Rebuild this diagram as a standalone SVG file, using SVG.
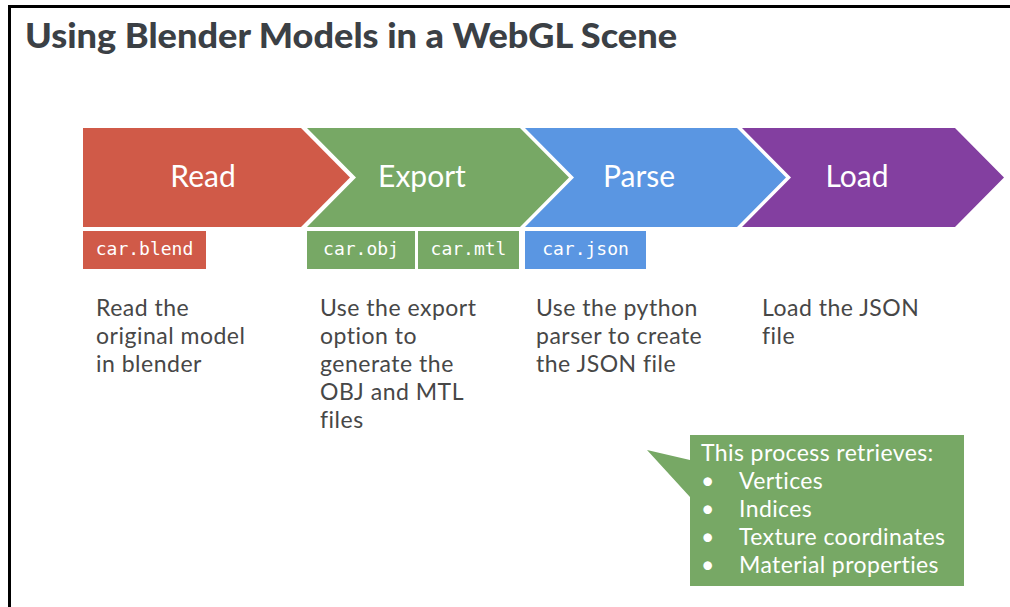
<svg xmlns="http://www.w3.org/2000/svg" width="1010" height="607" viewBox="0 0 1010 607">
<style>
.title{font-family:Lato,"Noto Sans",sans-serif;font-weight:900;font-size:34px;fill:#3b4045}
.lbl{font-family:Lato,"Noto Sans",sans-serif;font-size:30px;fill:#fff;text-anchor:middle}
.file{font-family:"DejaVu Sans Mono","Liberation Mono",monospace;font-size:18px;fill:#fff;text-anchor:middle}
.desc{font-family:Lato,"Noto Sans",sans-serif;font-size:23px;letter-spacing:0.5px;fill:#474747}
.call{font-family:Lato,"Noto Sans",sans-serif;font-size:23px;letter-spacing:0.4px;fill:#fff}
</style>
<rect width="1010" height="607" fill="#fff"/>
<path d="M9.5,607 V6.5 H1010" fill="none" stroke="#000" stroke-width="3"/>
<text class="title" x="25" y="48" textLength="652" lengthAdjust="spacingAndGlyphs">Using Blender Models in a WebGL Scene</text>

<g id="read">
<path d="M83,128 H301 L350,177.5 L301,227 H83 Z" fill="#d05a48"/>
<text class="lbl" x="203" y="187">Read</text>
<rect x="83" y="231" width="123" height="38" fill="#d05a48"/>
<text class="file" x="144.5" y="255">car.blend</text>
<text class="desc"><tspan x="96" y="316">Read the</tspan><tspan x="96" y="344">original model</tspan><tspan x="96" y="372">in blender</tspan></text>
</g>

<g id="export">
<path d="M307,128 H520 L569,177.5 L520,227 H307 L356,177.5 Z" fill="#77a865"/>
<text class="lbl" x="422" y="187">Export</text>
<rect x="307" y="231" width="108" height="38" fill="#77a865"/>
<text class="file" x="361" y="255">car.obj</text>
<rect x="418" y="231" width="101" height="38" fill="#77a865"/>
<text class="file" x="468.5" y="255">car.mtl</text>
<text class="desc"><tspan x="320" y="316">Use the export</tspan><tspan x="320" y="344">option to</tspan><tspan x="320" y="372">generate the</tspan><tspan x="320" y="400">OBJ and MTL</tspan><tspan x="320" y="428">files</tspan></text>
</g>

<g id="parse">
<path d="M525,128 H737 L786,177.5 L737,227 H525 L574,177.5 Z" fill="#5a96e2"/>
<text class="lbl" x="639" y="187">Parse</text>
<rect x="525" y="231" width="121" height="38" fill="#5a96e2"/>
<text class="file" x="585.5" y="255">car.json</text>
<text class="desc"><tspan x="536" y="316">Use the python</tspan><tspan x="536" y="344">parser to create</tspan><tspan x="536" y="372">the JSON file</tspan></text>
</g>

<g id="load">
<path d="M742,128 H955 L1004,177.5 L955,227 H742 L791,177.5 Z" fill="#833fa0"/>
<text class="lbl" x="857" y="187">Load</text>
<text class="desc"><tspan x="762" y="316">Load the JSON</tspan><tspan x="762" y="344">file</tspan></text>
</g>

<g id="callout">
<path d="M690,435 H964 V586 H690 V497 L647,450 L690,460 Z" fill="#77a865"/>
<text class="call"><tspan x="701" y="461">This process retrieves:</tspan><tspan x="701" y="489">•</tspan><tspan x="739" y="489">Vertices</tspan><tspan x="701" y="517">•</tspan><tspan x="739" y="517">Indices</tspan><tspan x="701" y="545">•</tspan><tspan x="739" y="545">Texture coordinates</tspan><tspan x="701" y="573">•</tspan><tspan x="739" y="573">Material properties</tspan></text>
</g>

<g id="connectors"></g>
</svg>
